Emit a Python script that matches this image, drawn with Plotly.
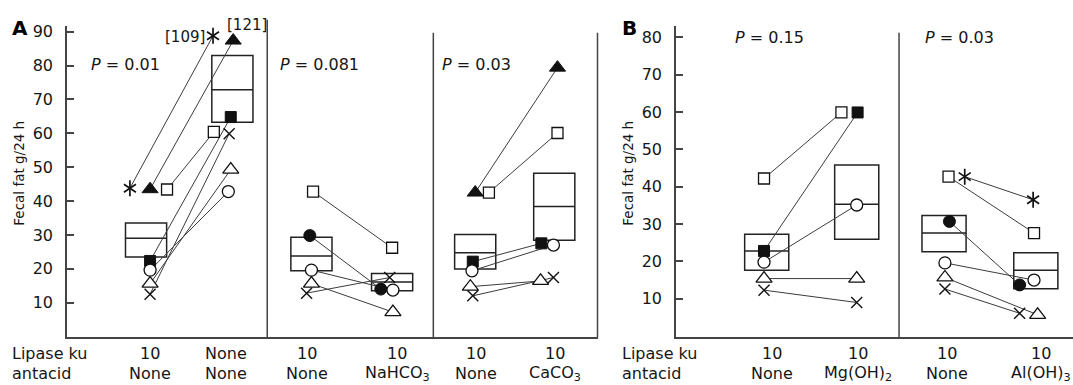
import plotly.graph_objects as go

W, H = 1073, 385

# ---------------- data ----------------
# Panel A --- comparison 1: lipase 10 ku vs none, no antacid
A1_patients = ['asterisk', 'tri_filled', 'sq_open', 'sq_filled', 'circ_open', 'tri_open', 'x']
A1_before = [43.8, 43.5, 43.4, 22.3, 19.6, 15.6, 12.5]
A1_after = [88.8, 87.4, 60.4, 64.8, 42.8, 49.3, 59.9]   # first two are drawn off-scale
A1_offscale = ['[109]', '[121]', None, None, None, None, None]

# Panel A --- comparison 2: no antacid vs NaHCO3 (lipase 10 ku)
A2_patients = ['sq_open', 'circ_filled', 'circ_open', 'tri_open', 'x']
A2_before = [42.8, 29.8, 19.6, 15.6, 12.8]
A2_after = [26.2, 14.0, 13.7, 7.2, 17.4]

# Panel A --- comparison 3: no antacid vs CaCO3 (lipase 10 ku)
A3_patients = ['tri_filled', 'sq_open', 'sq_filled', 'circ_open', 'tri_open', 'x']
A3_before = [42.5, 42.5, 22.1, 19.4, 14.7, 12.0]
A3_after = [79.4, 60.1, 27.5, 27.0, 16.4, 17.4]

# Panel A boxes (one per category)
A_box_q1 = [23.5, 63.3, 19.4, 13.5, 19.9, 28.4]
A_box_med = [29.0, 72.9, 23.8, 16.1, 24.7, 38.4]
A_box_q3 = [33.5, 83.0, 29.3, 18.6, 30.1, 48.2]

A_lipase = ['10', 'None', '10', '10', '10', '10']
A_antacid = ['None', 'None', 'None', 'NaHCO<sub>3</sub>', 'None', 'CaCO<sub>3</sub>']
A_pvalues = ['0.01', '0.081', '0.03']

# Panel B --- comparison 1: no antacid vs Mg(OH)2
B1_patients = ['sq_open', 'sq_filled', 'circ_open', 'tri_open', 'x']
B1_before = [42.2, 22.8, 19.8, 15.4, 12.3]
B1_after = [59.9, 59.9, 35.1, 15.4, 9.0]

# Panel B --- comparison 2: no antacid vs Al(OH)3
B2_patients = ['sq_open', 'asterisk', 'circ_filled', 'circ_open', 'tri_open', 'x']
B2_before = [42.7, 42.7, 30.7, 19.6, 15.7, 12.6]
B2_after = [27.6, 36.5, 13.7, 15.0, 5.7, 6.1]

B_box_q1 = [17.6, 25.9, 22.6, 12.7]
B_box_med = [22.8, 35.3, 27.6, 17.6]
B_box_q3 = [27.3, 45.8, 32.3, 22.3]

B_lipase = ['10', '10', '10', '10']
B_antacid = ['None', 'Mg(OH)<sub>2</sub>', 'None', 'Al(OH)<sub>3</sub>']
B_pvalues = ['0.15', '0.03']

# ---------------- layout helpers (positions / styles) ----------------
FONT = 'DejaVu Sans'
TXT = '#161616'
INK = '#111111'
LINE = '#3c3c3c'


def px(x):
    return x / W


def py(y):
    return (H - y) / H


Y_BOT, Y_TOP = py(336.7), py(23)

# horizontal jitter of markers (in category units) so that they do not overlap
A1_off_b = [-0.25, 0, 0.21, 0, 0, 0, 0]
A1_off_a = [-0.22, 0.03, -0.21, 0, -0.03, 0, -0.02]
A2_off_b = [0.02, -0.02, 0, 0, -0.06]
A2_off_a = [0, -0.14, 0.01, 0.01, -0.03]
A3_off_b = [0.03, 0.2, 0, -0.01, -0.03, 0]
A3_off_a = [0.05, 0.05, -0.15, 0, -0.16, 0]
B1_off_b = [0, 0, 0, 0, 0]
B1_off_a = [-0.14, 0.04, 0.03, 0.03, 0.03]
B2_off_b = [0.05, 0.23, 0.06, 0.01, 0.01, 0.01]
B2_off_a = [0, -0.01, -0.16, 0, 0.04, -0.16]

A_box_x = [-0.05, 1.02, 2.0, 3.0, 4.03, 5.01]
B_box_x = [0.03, 1.03, 2.0, 3.02]

SYM = {
    'asterisk': [dict(symbol='y-up-open', size=10, color=INK, line=dict(color=INK, width=1.7)),
                 dict(symbol='y-down-open', size=10, color=INK, line=dict(color=INK, width=1.7))],
    'tri_filled': [dict(symbol='triangle-up', size=14, color=INK, line=dict(color=INK, width=1))],
    'sq_open': [dict(symbol='square', size=11, color='white', line=dict(color=INK, width=1.3))],
    'sq_filled': [dict(symbol='square', size=11, color=INK, line=dict(color=INK, width=1))],
    'circ_open': [dict(symbol='circle', size=12, color='white', line=dict(color=INK, width=1.3))],
    'circ_filled': [dict(symbol='circle', size=12, color=INK, line=dict(color=INK, width=1))],
    'tri_open': [dict(symbol='triangle-up', size=14, color='white', line=dict(color=INK, width=1.3))],
    'x': [dict(symbol='x-thin-open', size=11, color=INK, line=dict(color=INK, width=1.4))],
}

fig = go.Figure()
marker_traces = []


def add_group(xa, ya, xb, xaf, pats, before, after, offb, offa):
    for p, b, a, ob, oa in zip(pats, before, after, offb, offa):
        fig.add_trace(go.Scatter(x=[xb + ob, xaf + oa], y=[b, a], mode='lines',
                                 line=dict(color=LINE, width=1), xaxis=xa, yaxis=ya,
                                 hoverinfo='skip', showlegend=False))
        for m in SYM[p]:
            marker_traces.append(go.Scatter(x=[xb + ob, xaf + oa], y=[b, a], mode='markers',
                                            marker=m, xaxis=xa, yaxis=ya,
                                            hoverinfo='skip', showlegend=False))


add_group('x', 'y', 0, 1, A1_patients, A1_before, A1_after, A1_off_b, A1_off_a)
add_group('x', 'y', 2, 3, A2_patients, A2_before, A2_after, A2_off_b, A2_off_a)
add_group('x', 'y', 4, 5, A3_patients, A3_before, A3_after, A3_off_b, A3_off_a)
add_group('x2', 'y2', 0, 1, B1_patients, B1_before, B1_after, B1_off_b, B1_off_a)
add_group('x2', 'y2', 2, 3, B2_patients, B2_before, B2_after, B2_off_b, B2_off_a)

box_style = dict(fillcolor='rgba(0,0,0,0)', line=dict(color='#222', width=1.5),
                 whiskerwidth=0, boxpoints=False, hoverinfo='skip', showlegend=False)
fig.add_trace(go.Box(x=A_box_x, q1=A_box_q1, median=A_box_med, q3=A_box_q3,
                     lowerfence=A_box_q1, upperfence=A_box_q3, width=0.51,
                     xaxis='x', yaxis='y', **box_style))
fig.add_trace(go.Box(x=B_box_x, q1=B_box_q1, median=B_box_med, q3=B_box_q3,
                     lowerfence=B_box_q1, upperfence=B_box_q3, width=0.49,
                     xaxis='x2', yaxis='y2', **box_style))

for t in marker_traces:
    fig.add_trace(t)

ann = []
f16 = dict(family=FONT, size=16, color=TXT)

# off-scale value labels
for i, lab in enumerate(A1_offscale):
    if lab is None:
        continue
    if i == 0:
        ann.append(dict(x=1 + A1_off_a[i], y=A1_after[i], xref='x', yref='y', text=lab,
                        showarrow=False, xanchor='right', yanchor='middle', xshift=-6, yshift=-1,
                        font=dict(family=FONT, size=15, color=TXT)))
    else:
        ann.append(dict(x=1 + A1_off_a[i], y=A1_after[i], xref='x', yref='y', text=lab,
                        showarrow=False, xanchor='center', yanchor='middle', xshift=14, yshift=16,
                        font=dict(family=FONT, size=15, color=TXT)))

# category labels
A_shift = [0, -5, -4, 5, 3, 2]
for i, (l1, l2) in enumerate(zip(A_lipase, A_antacid)):
    ann.append(dict(x=i, y=py(353), xref='x', yref='paper', text=l1, showarrow=False,
                    xanchor='center', yanchor='middle', xshift=A_shift[i], font=f16))
    ann.append(dict(x=i, y=py(373), xref='x', yref='paper', text=l2, showarrow=False,
                    xanchor='center', yanchor='middle', xshift=A_shift[i], font=f16))
B_shift = [8, 4, 3, 7]
for i, (l1, l2) in enumerate(zip(B_lipase, B_antacid)):
    ann.append(dict(x=i, y=py(353), xref='x2', yref='paper', text=l1, showarrow=False,
                    xanchor='center', yanchor='middle', xshift=B_shift[i], font=f16))
    ann.append(dict(x=i, y=py(373), xref='x2', yref='paper', text=l2, showarrow=False,
                    xanchor='center', yanchor='middle', xshift=B_shift[i], font=f16))

for xl in (10, 620):
    ann.append(dict(x=px(xl), y=py(353), xref='paper', yref='paper', text='Lipase ku',
                    showarrow=False, xanchor='left', yanchor='middle', font=f16))
    ann.append(dict(x=px(xl), y=py(373), xref='paper', yref='paper', text='antacid',
                    showarrow=False, xanchor='left', yanchor='middle', font=f16))

# P values
for (xl, yc), p in zip([(89, 62), (278, 62), (440, 62), (733, 35), (923, 35)],
                       A_pvalues + B_pvalues):
    ann.append(dict(x=px(xl), y=py(yc), xref='paper', yref='paper',
                    text='<i>P</i> = ' + p, showarrow=False, xanchor='left',
                    yanchor='middle', font=f16))

# panel letters
for (xc, yc), L in zip([(19.5, 25), (629, 25)], ['A', 'B']):
    ann.append(dict(x=px(xc), y=py(yc), xref='paper', yref='paper', text='<b>' + L + '</b>',
                    showarrow=False, xanchor='center', yanchor='middle',
                    font=dict(family=FONT, size=20, color='#000')))

# y titles
for xc in (19, 628):
    ann.append(dict(x=px(xc), y=py(172), xref='paper', yref='paper', text='Fecal fat g/24 h',
                    showarrow=False, textangle=-90, xanchor='center', yanchor='middle',
                    font=dict(family=FONT, size=13.5, color=TXT)))

# separators / frame lines
shapes = []
for xs, ytop in [(1.452, 17), (3.511, 30)]:
    shapes.append(dict(type='line', xref='x', yref='paper', x0=xs, x1=xs,
                       y0=Y_BOT, y1=py(ytop), line=dict(color='#444', width=1.5)))
shapes.append(dict(type='line', xref='paper', yref='paper', x0=px(597.5), x1=px(597.5),
                   y0=Y_BOT, y1=py(30), line=dict(color='#444', width=1.5)))
shapes.append(dict(type='line', xref='x2', yref='paper', x0=1.5, x1=1.5,
                   y0=Y_BOT, y1=py(30), line=dict(color='#444', width=1.5)))

xcommon = dict(showgrid=False, zeroline=False, showticklabels=False, ticks='',
               showline=True, linecolor='#444', linewidth=1.5)
ycommon = dict(showgrid=False, zeroline=False, ticks='inside', ticklen=7, tickwidth=1.5,
               tickcolor='#444', showline=True, linecolor='#444', linewidth=1.5,
               tickfont=dict(family=FONT, size=16, color=TXT), ticklabelstandoff=9)

fig.update_layout(
    width=W, height=H, margin=dict(l=0, r=0, t=0, b=0),
    paper_bgcolor='white', plot_bgcolor='white', showlegend=False, boxmode='overlay',
    xaxis=dict(domain=[px(67), px(597.5)], range=[-1.03, 5.546], anchor='y', **xcommon),
    yaxis=dict(domain=[Y_BOT, Y_TOP], range=[-0.18, 91.75], anchor='x',
               tickvals=[10, 20, 30, 40, 50, 60, 70, 80, 90], **ycommon),
    xaxis2=dict(domain=[px(676), 1], range=[-0.978, 3.433], anchor='y2', **xcommon),
    yaxis2=dict(domain=[Y_BOT, Y_TOP], range=[-0.27, 83.1], anchor='x2',
                tickvals=[10, 20, 30, 40, 50, 60, 70, 80], **ycommon),
    annotations=ann, shapes=shapes,
)

fig.write_html('out.html')
